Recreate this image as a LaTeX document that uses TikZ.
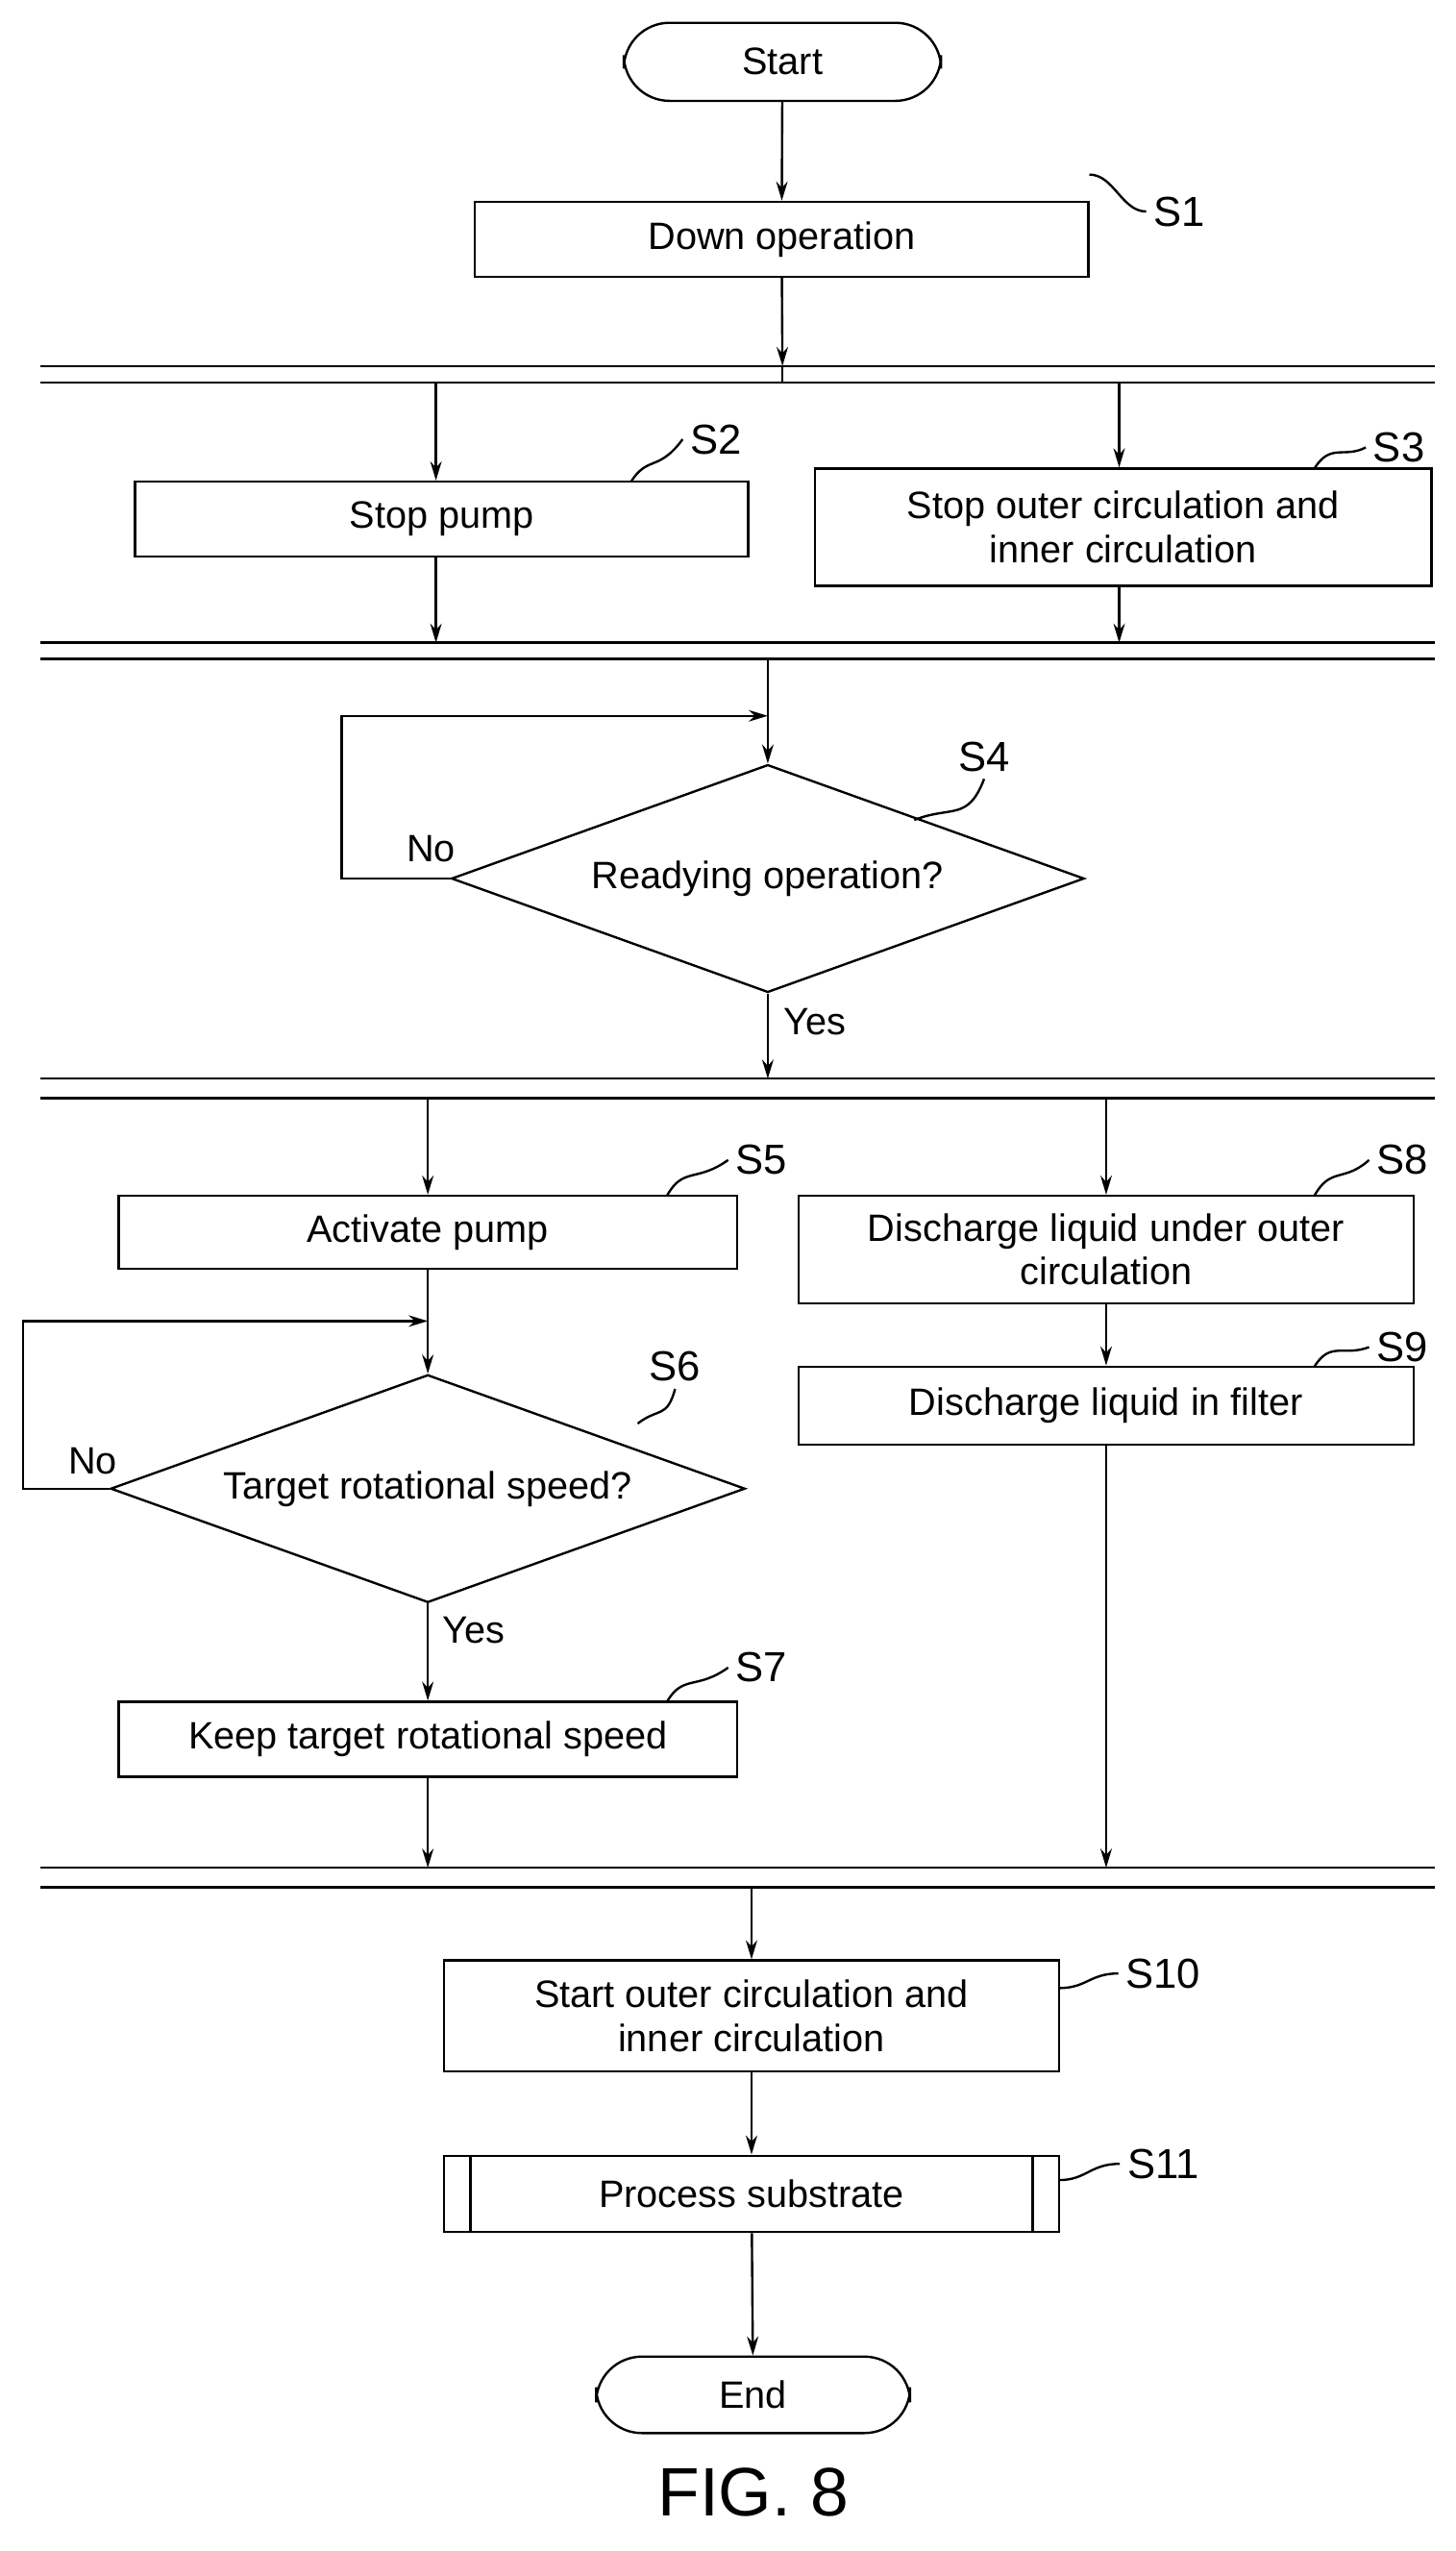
\documentclass[tikz,border=0pt]{standalone}
\usepackage{fontspec}
\setmainfont{Liberation Sans}
\usetikzlibrary{arrows.meta,shapes.geometric}
\begin{document}
\begin{tikzpicture}[x=0.03cm,y=-0.03cm,line width=1.2pt,
  every node/.style={font=\fontsize{20}{23}\selectfont},
  box/.style={draw,rectangle,inner sep=0pt,align=center},
  term/.style={draw,rounded corners=24pt,inner sep=0pt},
  dia/.style={draw,diamond,aspect=2.8,inner sep=0pt},
  lab/.style={font=\fontsize{22}{24}\selectfont},
  arr/.style={-{Stealth[length=10pt,width=6pt]}}]
\useasboundingbox (0,0) rectangle (895,1568);
% nodes
\node[term,minimum width=195*0.03cm,minimum height=48*0.03cm] (start) at (481,38) {Start};
\node[box,minimum width=377*0.03cm,minimum height=46*0.03cm] (s1) at (480.5,147) {Down operation};
\node[box,minimum width=377*0.03cm,minimum height=46*0.03cm] (s2) at (271.5,319) {Stop pump};
\node[box,minimum width=379*0.03cm,minimum height=72*0.03cm] (s3) at (690.5,324) {Stop outer circulation and\\inner circulation};
\node[dia,minimum width=389*0.03cm,minimum height=140*0.03cm] (s4) at (472,540) {Readying operation?};
\node[box,minimum width=380*0.03cm,minimum height=45*0.03cm] (s5) at (263,757.5) {Activate pump};
\node[dia,minimum width=390*0.03cm,minimum height=140*0.03cm] (s6) at (263,915) {Target rotational speed?};
\node[box,minimum width=380*0.03cm,minimum height=46*0.03cm] (s7) at (263,1069) {Keep target rotational speed};
\node[box,minimum width=378*0.03cm,minimum height=66*0.03cm] (s8) at (680,768) {Discharge liquid under outer\\circulation};
\node[box,minimum width=378*0.03cm,minimum height=48*0.03cm] (s9) at (680,864) {Discharge liquid in filter};
\node[box,minimum width=378*0.03cm,minimum height=68*0.03cm] (s10) at (462,1239) {Start outer circulation and\\inner circulation};
\node[box,minimum width=378*0.03cm,minimum height=47*0.03cm] (s11) at (462,1348.5) {Process substrate};
\draw ([xshift=17*0.03cm]s11.north west) -- ([xshift=17*0.03cm]s11.south west);
\draw ([xshift=-17*0.03cm]s11.north east) -- ([xshift=-17*0.03cm]s11.south east);
\node[term,minimum width=193*0.03cm,minimum height=47*0.03cm] (end) at (463,1472) {End};
\node[font=\fontsize{36}{40}\selectfont] (fig) at (463,1532) {FIG. 8};
% double lines
\foreach \y in {225,235,395,405,663,675,1148,1160} \draw (25,\y) -- (882,\y);
% coordinates on the bars
\coordinate (b1a) at (481,225); \coordinate (b1b) at (481,235);
\coordinate (b1c) at (268,235); \coordinate (b1d) at (688,235);
\coordinate (b2a) at (268,395); \coordinate (b2b) at (688,395);
\coordinate (b2c) at (472,405);
\coordinate (b3a) at (472,663); \coordinate (b3b) at (263,675); \coordinate (b3c) at (680,675);
\coordinate (b4a) at (263,1148); \coordinate (b4b) at (680,1148); \coordinate (b4c) at (462,1160);
\coordinate (l4) at (210,440); \coordinate (l4a) at (210,540); \coordinate (l4t) at (472,440);
\coordinate (l6) at (14,812); \coordinate (l6a) at (14,915); \coordinate (l6t) at (263,812);
% connectors
\draw[arr] (start) -- (s1);
\draw[arr] (s1) -- (b1a);
\draw (b1a) -- (b1b);
\draw[arr] (b1c) -- (s2.north -| b1c);
\draw[arr] (b1d) -- (s3.north -| b1d);
\draw[arr] (s2.south -| b2a) -- (b2a);
\draw[arr] (s3.south -| b2b) -- (b2b);
\draw (b2c) -- (l4t);
\draw[arr] (l4t) -- (s4.north);
\draw[arr] (s4.west) -- (l4a) -- (l4) -- (l4t);
\draw[arr] (s4.south) -- (b3a);
\draw[arr] (b3b) -- (s5);
\draw (s5) -- (l6t);
\draw[arr] (l6t) -- (s6.north);
\draw[arr] (s6.west) -- (l6a) -- (l6) -- (l6t);
\draw[arr] (s6.south) -- (s7);
\draw[arr] (s7) -- (b4a);
\draw[arr] (b3c) -- (s8);
\draw[arr] (s8) -- (s9);
\draw[arr] (s9) -- (b4b);
\draw[arr] (b4c) -- (s10);
\draw[arr] (s10) -- (s11);
\draw[arr] (s11) -- (end);
% branch labels
\node (no1) at (265,522) {No};
\node (yes1) at (501,628) {Yes};
\node (no2) at (57,898) {No};
\node (yes2) at (291,1002) {Yes};
% step labels with leaders
\node[lab] (t1) at (725,130) {S1};
\draw (s1.north east) ++(0,16*0.03cm) coordinate (c1) .. controls +(15,0) and +(-15,0) .. (t1.west);
\node[lab] (t2) at (440,270) {S2};
\draw (388,296) .. controls (398,280) and (405,290) .. (t2.west);
\node[lab] (t3) at (860,275) {S3};
\draw (808,288) .. controls (818,272) and (826,282) .. (t3.west);
\node[lab] (t4) at (605,465) {S4};
\draw (562,504) .. controls (585,495) and (595,505) .. (t4.south);
\node[lab] (t5) at (468,713) {S5};
\draw (410,735) .. controls (420,717) and (428,727) .. (t5.west);
\node[lab] (t6) at (415,840) {S6};
\draw (392,875) .. controls (405,865) and (410,872) .. (t6.south);
\node[lab] (t7) at (468,1025) {S7};
\draw (410,1046) .. controls (420,1029) and (428,1039) .. (t7.west);
\node[lab] (t8) at (862,713) {S8};
\draw (808,735) .. controls (818,717) and (826,727) .. (t8.west);
\node[lab] (t9) at (862,828) {S9};
\draw (808,840) .. controls (818,824) and (826,834) .. (t9.west);
\node[lab] (t10) at (715,1213) {S10};
\draw (651,1222) .. controls (668,1222) and (670,1213) .. (t10.west);
\node[lab] (t11) at (715,1330) {S11};
\draw (651,1340) .. controls (668,1340) and (670,1330) .. (t11.west);
\end{tikzpicture}
\end{document}
